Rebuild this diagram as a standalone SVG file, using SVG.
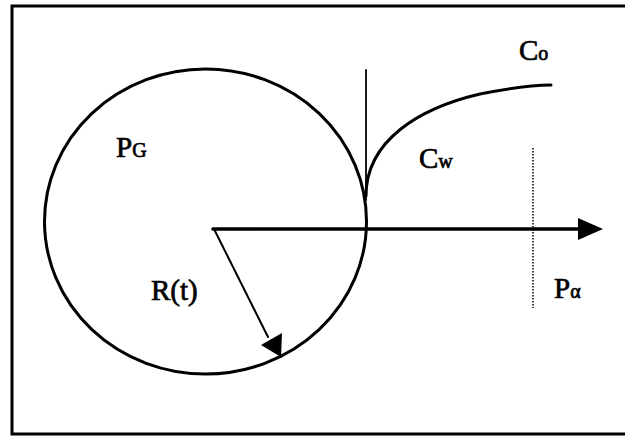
<svg xmlns="http://www.w3.org/2000/svg" width="625" height="437" viewBox="0 0 625 437">
<style>
.t{font-family:"Liberation Serif","Times New Roman",serif;fill:#000;stroke:#000;stroke-width:0.7px;}
.big{font-size:29px;}
.sub{font-size:20px;}
.ln{fill:none;stroke:#000;stroke-linecap:round;}
</style>
<rect id="frame" x="12" y="6" width="616" height="428" fill="#fff" stroke="#000" stroke-width="3"/>
<g id="bubble">
<ellipse cx="205.5" cy="221.5" rx="161" ry="152.5" class="ln" stroke-width="3"/>
</g>
<g id="connectors">
<line x1="366" y1="70" x2="366" y2="200" class="ln" stroke-width="1.8"/>
<path d="M366,196 C366,140 420,108 480,94 C515,87 535,85 551,85" class="ln" stroke-width="3"/>
<line x1="533" y1="148" x2="533" y2="308" stroke="#000" stroke-width="1.5" stroke-dasharray="1.5 1.5"/>
<line x1="213" y1="229" x2="580" y2="229" class="ln" stroke-width="3.5"/>
<path d="M578,218 L603,229 L578,240 Z" fill="#000"/>
<line x1="214" y1="229" x2="268" y2="337" class="ln" stroke-width="2"/>
<path d="M261,345 L282,333 L281,357 Z" fill="#000"/>
</g>
<g id="labels">
<text class="t big" x="116" y="157">P<tspan class="sub">G</tspan></text>
<text class="t big" x="419" y="168">C<tspan class="sub">w</tspan></text>
<text class="t big" x="519" y="60">C<tspan class="sub">o</tspan></text>
<text class="t big" x="151" y="300">R(t)</text>
<text class="t big" x="554" y="298">P<tspan class="sub">α</tspan></text>
</g>
</svg>
